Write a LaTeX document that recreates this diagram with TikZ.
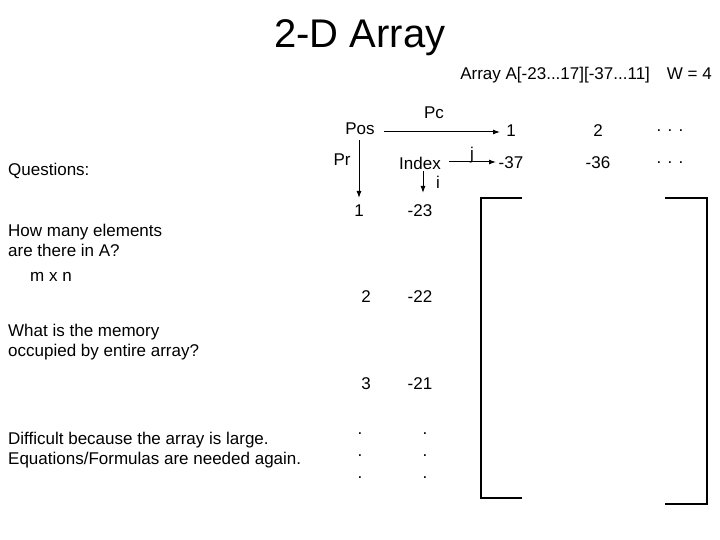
\documentclass[tikz,border=0pt]{standalone}
\usepackage{fontspec}
\setmainfont{Liberation Sans}
\usetikzlibrary{arrows.meta}
\begin{document}
\begin{tikzpicture}[x=1pt,y=-1pt,
  t/.style={inner sep=0pt,font=\fontsize{17}{20}\selectfont},
  l/.style={t,anchor=west,align=left},
  ar/.style={-{Latex[length=7pt,width=5pt]},line width=1pt},
  br/.style={line width=1.2pt}]
\useasboundingbox (0,0) rectangle (720,540);
\node[t,font=\fontsize{40}{44}\selectfont] (title) at (360,38) {2-D Array};
\node[t,anchor=east] (hdr) at (712,75) {Array A[-23...17][-37...11]\quad W = 4};
\node[t] (pos) at (360,129) {Pos};
\node[t] (pc) at (434,113) {Pc};
\node[t] (c1) at (511,131) {1};
\node[t] (c2) at (598,131) {2};
\node[t] (c3) at (670,131) {. . .};
\node[t] (pr) at (342,160) {Pr};
\node[t] (idx) at (420,163) {Index};
\node[t] (jl) at (472,155) {j};
\node[t] (m37) at (511,163) {-37};
\node[t] (m36) at (598,163) {-36};
\node[t] (c3b) at (670,163) {. . .};
\node[t] (il) at (438,182) {i};
\node[t] (r1) at (359,211) {1};
\node[t] (r2) at (366,297) {2};
\node[t] (r3) at (366,384) {3};
\node[t,align=center] (r4) at (360,456) {.\\[2pt].\\[2pt].};
\node[t] (v1) at (420,211) {-23};
\node[t] (v2) at (420,297) {-22};
\node[t] (v3) at (420,384) {-21};
\node[t,align=center] (v4) at (425,456) {.\\[2pt].\\[2pt].};
\node[l] (q) at (8,171) {Questions:};
\node[l] (q1) at (8,240) {How many elements\\are there in A?};
\node[l] (mn) at (30,277) {m x n};
\node[l] (q2) at (8,342) {What is the memory\\occupied by entire array?};
\node[l] (q3) at (8,450) {Difficult because the array is large.\\Equations/Formulas are needed again.};
\coordinate (pa) at (384,132);
\coordinate (pae) at (500,132);
\coordinate (pb) at (359,140);
\coordinate (pbe) at (359,198);
\coordinate (ia) at (449,162);
\coordinate (iae) at (496,162);
\coordinate (ib) at (423,171);
\coordinate (ibe) at (423,193);
\draw[ar] (pa) -- (pae);
\draw[ar] (pb) -- (pbe);
\draw[ar] (ia) -- (iae);
\draw[ar] (ib) -- (ibe);
\draw[br] (522,198) -- (481,198) -- (481,498) -- (522,498);
\draw[br] (665,198) -- (707,198) -- (707,504) -- (665,504);
\end{tikzpicture}
\end{document}
